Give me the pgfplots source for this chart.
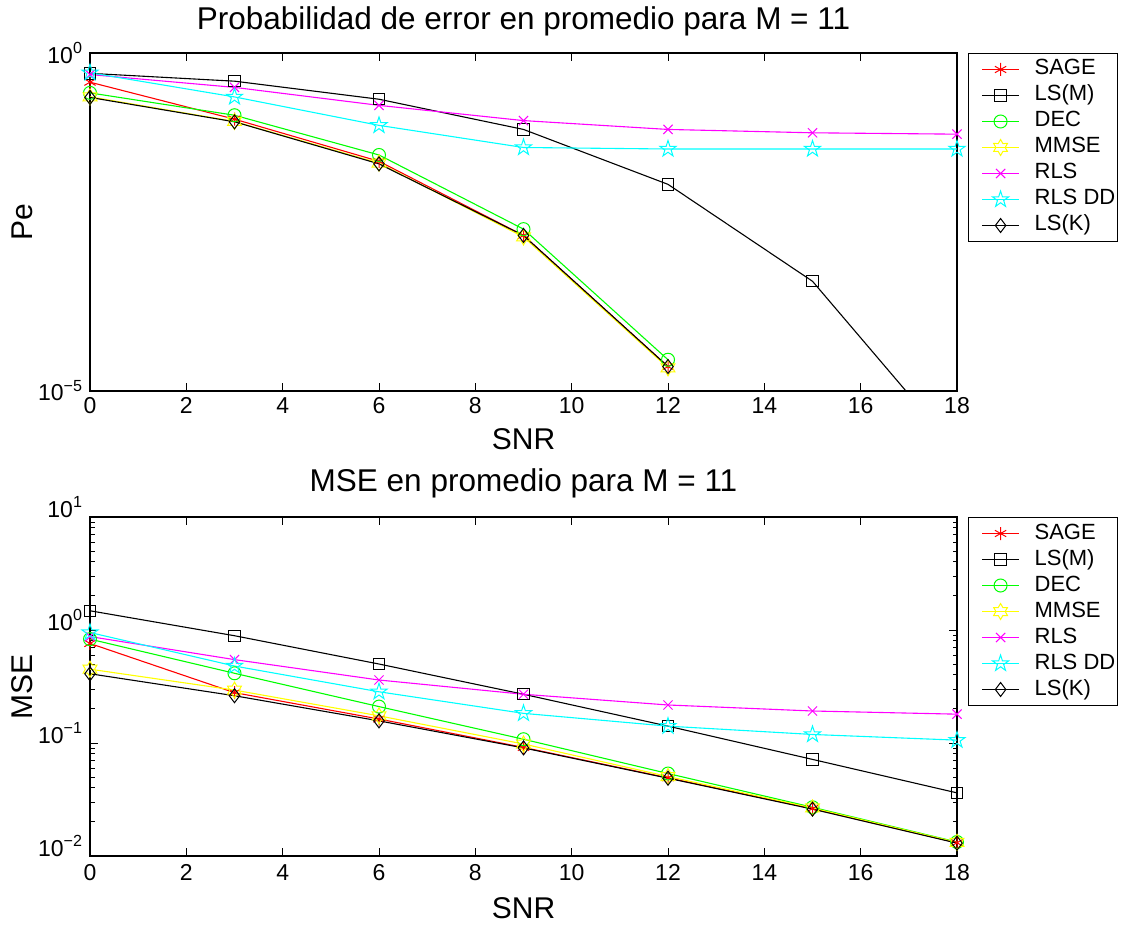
\documentclass[border=0pt]{standalone}
\usepackage{pgfplots}
\pgfplotsset{compat=1.18}
\usepackage{fontspec}
\setmainfont{Liberation Sans}
\usetikzlibrary{plotmarks}

\pgfdeclareplotmark{pentagram}{%
\pgfpathmoveto{\pgfpointpolar{90}{\pgfplotmarksize}}%
\pgfpathlineto{\pgfpointpolar{126}{0.382\pgfplotmarksize}}%
\pgfpathlineto{\pgfpointpolar{162}{\pgfplotmarksize}}%
\pgfpathlineto{\pgfpointpolar{198}{0.382\pgfplotmarksize}}%
\pgfpathlineto{\pgfpointpolar{234}{\pgfplotmarksize}}%
\pgfpathlineto{\pgfpointpolar{270}{0.382\pgfplotmarksize}}%
\pgfpathlineto{\pgfpointpolar{306}{\pgfplotmarksize}}%
\pgfpathlineto{\pgfpointpolar{342}{0.382\pgfplotmarksize}}%
\pgfpathlineto{\pgfpointpolar{18}{\pgfplotmarksize}}%
\pgfpathlineto{\pgfpointpolar{54}{0.382\pgfplotmarksize}}%
\pgfpathclose\pgfusepathqstroke}

\pgfdeclareplotmark{hexagram}{%
\pgfpathmoveto{\pgfpointpolar{90}{\pgfplotmarksize}}%
\pgfpathlineto{\pgfpointpolar{120}{0.577\pgfplotmarksize}}%
\pgfpathlineto{\pgfpointpolar{150}{\pgfplotmarksize}}%
\pgfpathlineto{\pgfpointpolar{180}{0.577\pgfplotmarksize}}%
\pgfpathlineto{\pgfpointpolar{210}{\pgfplotmarksize}}%
\pgfpathlineto{\pgfpointpolar{240}{0.577\pgfplotmarksize}}%
\pgfpathlineto{\pgfpointpolar{270}{\pgfplotmarksize}}%
\pgfpathlineto{\pgfpointpolar{300}{0.577\pgfplotmarksize}}%
\pgfpathlineto{\pgfpointpolar{330}{\pgfplotmarksize}}%
\pgfpathlineto{\pgfpointpolar{0}{0.577\pgfplotmarksize}}%
\pgfpathlineto{\pgfpointpolar{30}{\pgfplotmarksize}}%
\pgfpathlineto{\pgfpointpolar{60}{0.577\pgfplotmarksize}}%
\pgfpathclose\pgfusepathqstroke}

\definecolor{mred}{rgb}{1,0,0}
\definecolor{mgreen}{rgb}{0,1,0}
\definecolor{myellow}{rgb}{1,1,0}
\definecolor{mmagenta}{rgb}{1,0,1}
\definecolor{mcyan}{rgb}{0,1,1}

\pgfplotsset{
 every axis/.append style={
  scale only axis, width=867pt,
  xmin=0, xmax=18, xtick={0,2,...,18},
  axis line style={line width=1.2pt},
  major tick length=8pt, minor tick length=4.5pt,
  every tick/.style={black, line width=1pt},
  tick label style={font=\fontsize{23}{27}\selectfont},
  xlabel={SNR},
  label style={font=\fontsize{30}{36}\selectfont},
  title style={font=\fontsize{31.5}{37}\selectfont},
  legend cell align=left,
  legend style={at={(axis description cs:1.0127,1)}, anchor=north west,
    draw=black, line width=1pt, inner xsep=2pt, inner ysep=3pt,
    font=\fontsize{22}{26}\selectfont,
    nodes={inner xsep=0pt, inner ysep=2.5pt, text height=16pt, text depth=5pt}},
  legend image code/.code={%
    \path (0pt,0pt);
    \draw[mark repeat=2, mark phase=2] plot coordinates {(11pt,0pt)(29.5pt,0pt)(48pt,0pt)};
    \path (63pt,0pt);},
  every axis plot/.append style={line width=1.1pt, mark size=6pt, mark options={solid, line width=1pt}},
 }
}

\begin{document}
\begin{tikzpicture}[x=1pt,y=1pt]
\useasboundingbox (0,0) rectangle (1123,924);

% ---------------- top axis -----------------
\begin{axis}[
  ymode=log,
  /pgf/number format/assume math mode=true,
  at={(90pt,533pt)}, anchor=south west, height=338pt,
  ymin=1e-5, ymax=1,
  ytick={1e-5,1}, minor ytick={},
  yticklabels={10\textsuperscript{−5},10\textsuperscript{0}},
  yticklabel style={anchor=east, xshift=-4pt},
  xticklabel style={yshift=-3pt},
  ylabel={Pe},
  ylabel style={at={(axis description cs:-0.0784,0.5)}, anchor=center},
  xlabel style={at={(axis description cs:0.5,-0.173)}, anchor=base},
  title={Probabilidad de error en promedio para M = 11},
  title style={at={(axis description cs:0.5,1.053)}, anchor=base},
]
\addplot[color=mred, mark=asterisk, mark size=6.5pt] coordinates {(0,0.37)(3,0.105)(6,0.025)(9,0.0020)(12,2.3e-5)};
\addlegendentry{SAGE}
\addplot[color=black, mark=square, mark size=5.7pt] coordinates {(0,0.50)(3,0.383)(6,0.207)(9,0.074)(12,0.0114)(15,4.2e-4)(18,1.3e-6)};
\addlegendentry{LS(M)}
\addplot[color=mgreen, mark=o, mark size=6.5pt] coordinates {(0,0.257)(3,0.12)(6,0.031)(9,0.00248)(12,2.9e-5)};
\addlegendentry{DEC}
\addplot[color=myellow, mark=hexagram, mark size=8pt] coordinates {(0,0.225)(3,0.097)(6,0.0235)(9,0.0019)(12,2.2e-5)};
\addlegendentry{MMSE}
\addplot[color=mmagenta, mark=x, mark size=6.5pt] coordinates {(0,0.48)(3,0.31)(6,0.168)(9,0.1)(12,0.074)(15,0.066)(18,0.063)};
\addlegendentry{RLS}
\addplot[color=mcyan, mark=pentagram, mark size=8.5pt] coordinates {(0,0.51)(3,0.224)(6,0.085)(9,0.040)(12,0.038)(15,0.038)(18,0.038)};
\addlegendentry{RLS DD}
\addplot[color=black, mark=diamond, mark size=7pt] coordinates {(0,0.22)(3,0.096)(6,0.0229)(9,0.0020)(12,2.3e-5)};
\addlegendentry{LS(K)}
\end{axis}

% ---------------- bottom axis -----------------
\begin{axis}[
  ymode=log,
  /pgf/number format/assume math mode=true,
  at={(90pt,68pt)}, anchor=south west, height=339pt,
  ymin=1e-2, ymax=10,
  ytick={0.01,0.1,1,10}, minor ytick={},
  extra y ticks={0.02,0.03,0.04,0.05,0.06,0.07,0.08,0.09,0.2,0.3,0.4,0.5,0.6,0.7,0.8,0.9,2,3,4,5,6,7,8,9},
  extra y tick labels={},
  extra y tick style={major tick length=4.5pt, yticklabel style={opacity=0}},
  yticklabels={10\textsuperscript{−2},10\textsuperscript{−1},10\textsuperscript{0},10\textsuperscript{1}},
  yticklabel style={anchor=base east, xshift=-4pt},
  xticklabel style={yshift=-5pt},
  ylabel={MSE},
  ylabel style={at={(axis description cs:-0.0784,0.5)}, anchor=center},
  xlabel style={at={(axis description cs:0.5,-0.183)}, anchor=base},
  title={MSE en promedio para M = 11},
  title style={at={(axis description cs:0.5,1.059)}, anchor=base},
]
\addplot[color=mred, mark=asterisk, mark size=6.5pt] coordinates {(0,0.76)(3,0.279)(6,0.163)(9,0.0914)(12,0.0492)(15,0.0263)(18,0.0131)};
\addlegendentry{SAGE}
\addplot[color=black, mark=square, mark size=5.7pt] coordinates {(0,1.48)(3,0.89)(6,0.50)(9,0.27)(12,0.141)(15,0.0716)(18,0.0362)};
\addlegendentry{LS(M)}
\addplot[color=mgreen, mark=o, mark size=6.5pt] coordinates {(0,0.83)(3,0.414)(6,0.21)(9,0.108)(12,0.0537)(15,0.027)(18,0.0133)};
\addlegendentry{DEC}
\addplot[color=myellow, mark=hexagram, mark size=8pt] coordinates {(0,0.45)(3,0.294)(6,0.174)(9,0.098)(12,0.0505)(15,0.0266)(18,0.0132)};
\addlegendentry{MMSE}
\addplot[color=mmagenta, mark=x, mark size=6.5pt] coordinates {(0,0.875)(3,0.547)(6,0.361)(9,0.27)(12,0.217)(15,0.192)(18,0.18)};
\addlegendentry{RLS}
\addplot[color=mcyan, mark=pentagram, mark size=8.5pt] coordinates {(0,0.95)(3,0.48)(6,0.284)(9,0.183)(12,0.141)(15,0.119)(18,0.106)};
\addlegendentry{RLS DD}
\addplot[color=black, mark=diamond, mark size=7pt] coordinates {(0,0.41)(3,0.262)(6,0.157)(9,0.0905)(12,0.0488)(15,0.026)(18,0.013)};
\addlegendentry{LS(K)}
\end{axis}
\end{tikzpicture}
\end{document}
